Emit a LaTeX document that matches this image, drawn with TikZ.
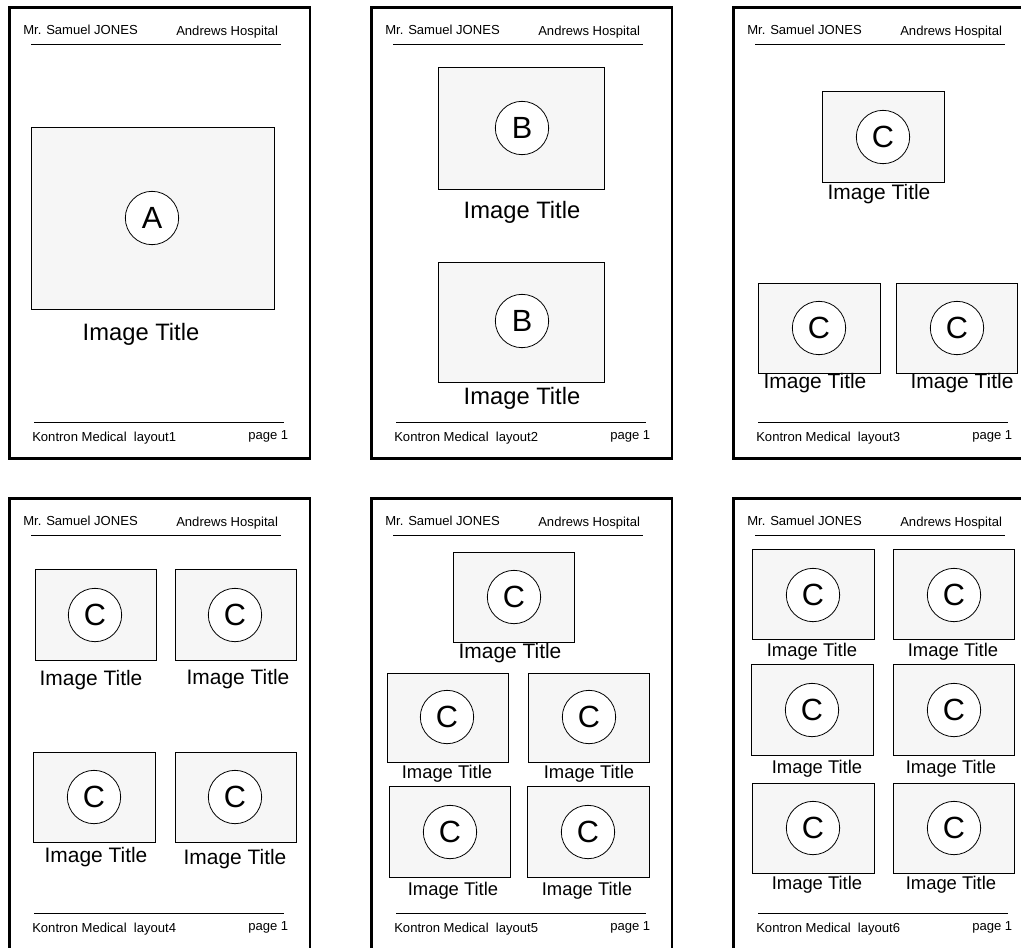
\documentclass[tikz,border=0pt]{standalone}
\usepackage{fontspec}
\setmainfont{Liberation Sans}
\definecolor{imgfill}{HTML}{F6F6F6}

\begin{document}
\begin{tikzpicture}[x=0.75pt,y=-0.75pt,
	pagebox/.style={line width=2pt},
	imgbox/.style={draw, fill=imgfill, line width=0.7pt},
	letter/.style={circle, draw, fill=white, line width=0.6pt, minimum size=40pt, inner sep=0pt, font=\fontsize{23}{23}\selectfont},
	bigtitle/.style={anchor=base, font=\fontsize{17.8}{18}\selectfont},
	midtitle/.style={anchor=base, font=\fontsize{15.7}{16}\selectfont},
	smalltitle/.style={anchor=base, font=\fontsize{13.8}{14}\selectfont},
	pagetext/.style={anchor=base west, inner sep=0pt, font=\fontsize{9.8}{10}\selectfont}]
			\useasboundingbox (0,0) rectangle (1021,947);
			\clip (0,0) rectangle (1021,947);
			\foreach \n/\dx/\dy in {1/0/0, 2/362/0, 3/724/0, 4/0/491, 5/362/491, 6/724/491} {
				\begin{scope}[shift={(\dx,\dy)}]
					\draw[pagebox] (9.3,7.3) rectangle (310,458.3);
					\node[pagetext] (patient\n) at (23,34.3) {Mr. Samuel JONES};
					\node[pagetext] (hospital\n) at (176,35.7) {Andrews Hospital};
					\draw[line width=0.7pt] (31,44) -- (281,44);
					\draw[line width=0.7pt] (34,422) -- (284,422);
					\node[pagetext] (maker\n) at (32,441) {Kontron Medical\ \ layout\n};
					\node[pagetext] (page\n) at (248,439) {page 1};
				\end{scope}
			}
			% layout1
			\draw[imgbox] (31,127) rectangle (274,309);
			\node[letter] (a1) at (152,218) {A};
			\node[bigtitle] (ta1) at (141,340) {Image Title};
			% layout2
			\draw[imgbox] (438,67) rectangle (604,189);
			\node[letter] (b1) at (522,128) {B};
			\node[bigtitle] (tb1) at (522,218.3) {Image Title};
			\draw[imgbox] (438,262) rectangle (604,382);
			\node[letter] (b2) at (522,321) {B};
			\node[bigtitle] (tb2) at (522,404.3) {Image Title};
			% layout3
			\draw[imgbox] (822,91) rectangle (944,182);
			\node[letter] (c31) at (883,137) {C};
			\node[midtitle] (tc31) at (879,199.3) {Image Title};
			\draw[imgbox] (758,283) rectangle (880,373);
			\node[letter] (c32) at (819,328) {C};
			\node[midtitle] (tc32) at (815,388.3) {Image Title};
			\draw[imgbox] (896,283) rectangle (1017,373);
			\node[letter] (c33) at (957,328) {C};
			\node[midtitle] (tc33) at (962,388.3) {Image Title};
			% layout4
			\draw[imgbox] (35,569) rectangle (156,660);
			\node[letter] (c41) at (95,615) {C};
			\node[midtitle] (tc41) at (91,685.7) {Image Title};
			\draw[imgbox] (175,569) rectangle (296,660);
			\node[letter] (c42) at (235,615) {C};
			\node[midtitle] (tc42) at (238,684) {Image Title};
			\draw[imgbox] (33,752) rectangle (155,842);
			\node[letter] (c43) at (94,797) {C};
			\node[midtitle] (tc43) at (96,862.3) {Image Title};
			\draw[imgbox] (175,752) rectangle (296,842);
			\node[letter] (c44) at (235,797) {C};
			\node[midtitle] (tc44) at (235,864.3) {Image Title};
			% layout5
			\draw[imgbox] (453,552) rectangle (574,642);
			\node[letter] (c51) at (514,597) {C};
			\node[midtitle] (tc51) at (510,658.3) {Image Title};
			\draw[imgbox] (387,673) rectangle (508,762);
			\node[letter] (c52) at (447,717) {C};
			\node[smalltitle] (tc52) at (447,778.3) {Image Title};
			\draw[imgbox] (528,673) rectangle (649,762);
			\node[letter] (c53) at (589,717) {C};
			\node[smalltitle] (tc53) at (589,778.3) {Image Title};
			\draw[imgbox] (389,786) rectangle (510,877);
			\node[letter] (c54) at (450,832) {C};
			\node[smalltitle] (tc54) at (453,895.7) {Image Title};
			\draw[imgbox] (527,786) rectangle (649,877);
			\node[letter] (c55) at (588,832) {C};
			\node[smalltitle] (tc55) at (587,895.7) {Image Title};
			% layout6
			\draw[imgbox] (752,549) rectangle (874,639);
			\node[letter] (c61) at (813,595) {C};
			\node[smalltitle] (tc61) at (812,656.7) {Image Title};
			\draw[imgbox] (893,549) rectangle (1014,639);
			\node[letter] (c62) at (954,595) {C};
			\node[smalltitle] (tc62) at (953,656.7) {Image Title};
			\draw[imgbox] (751,664) rectangle (873,755);
			\node[letter] (c63) at (812,710) {C};
			\node[smalltitle] (tc63) at (817,773.3) {Image Title};
			\draw[imgbox] (893,664) rectangle (1014,755);
			\node[letter] (c64) at (954,710) {C};
			\node[smalltitle] (tc64) at (951,773.3) {Image Title};
			\draw[imgbox] (752,783) rectangle (874,873);
			\node[letter] (c65) at (813,828) {C};
			\node[smalltitle] (tc65) at (817,889) {Image Title};
			\draw[imgbox] (893,783) rectangle (1014,873);
			\node[letter] (c66) at (954,828) {C};
			\node[smalltitle] (tc66) at (951,889) {Image Title};
		\end{tikzpicture}
\end{document}
